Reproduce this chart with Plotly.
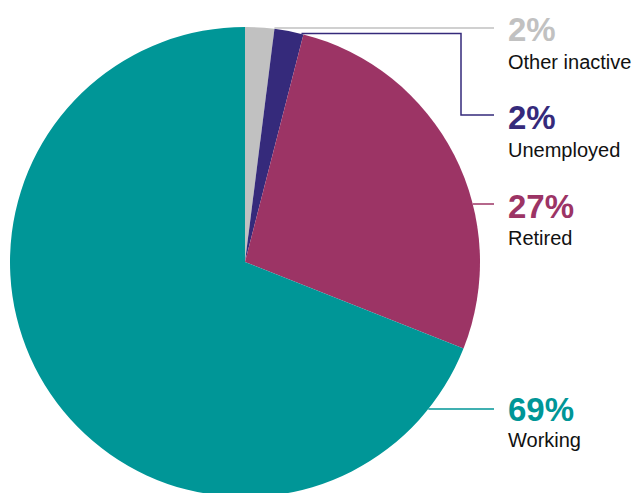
import math
import plotly.graph_objects as go

# data
labels = ["Other inactive", "Unemployed", "Retired", "Working"]
values = [2, 2, 27, 69]
colours = ["#c1c1c1", "#352a7b", "#9c3465", "#009697"]

OFF = 8            # page body margin
W, H = 635, 489
TOP = 19
CX, CY, R = 245, 262, 235   # pie geometry in page pixels

def px(x):
    return (x - OFF) / W

def py(y):
    return (H - (y - OFF)) / (H - TOP)

fig = go.Figure(go.Pie(
    labels=labels,
    values=values,
    sort=False,
    direction="clockwise",
    rotation=0,
    marker=dict(colors=colours, line=dict(width=0)),
    textinfo="none",
    hoverinfo="label+percent",
    domain=dict(x=[px(CX - R), px(CX + R)], y=[0, 1]),
    showlegend=False,
))

# label rows (page pixel y of the leader line, percent label, name label)
line_y = [28, 115, 204, 409]
pct_y = [30, 117, 206, 409]
name_y = [62, 150, 238, 440]
LX_END = 494
TX = 506

def edge_x(y):
    dy = y - CY
    return CX + math.sqrt(max(R * R - dy * dy, 0))

shapes = []
# other inactive: from top edge of its slice
a = 2 * math.pi * values[0] / sum(values)
shapes.append(dict(type="line", xref="paper", yref="paper",
                   x0=px(CX + R * math.sin(a)), x1=px(LX_END),
                   y0=py(line_y[0]), y1=py(line_y[0]),
                   line=dict(color=colours[0], width=1.5)))
# unemployed: elbow line
a2 = 2 * math.pi * (values[0] + values[1]) / sum(values)
sx, sy = CX + R * math.sin(a2) - 2, CY - R * math.cos(a2) - 1
path = "M {} {} L {} {} L {} {} L {} {}".format(
    px(sx), py(sy), px(461), py(sy), px(461), py(line_y[1]), px(LX_END), py(line_y[1]))
shapes.append(dict(type="path", xref="paper", yref="paper", path=path,
                   line=dict(color=colours[1], width=1.5)))
for i in (2, 3):
    shapes.append(dict(type="line", xref="paper", yref="paper",
                       x0=px(edge_x(line_y[i])), x1=px(LX_END),
                       y0=py(line_y[i]), y1=py(line_y[i]),
                       line=dict(color=colours[i], width=1.5)))

annotations = []
for i, lab in enumerate(labels):
    annotations.append(dict(
        x=px(TX), y=py(pct_y[i]), xref="paper", yref="paper",
        xanchor="left", yanchor="middle", showarrow=False,
        text="<b>{}%</b>".format(values[i]),
        font=dict(family="Liberation Sans, Arial, sans-serif", size=33, color=colours[i])))
    annotations.append(dict(
        x=px(TX), y=py(name_y[i]), xref="paper", yref="paper",
        xanchor="left", yanchor="middle", showarrow=False,
        text=lab,
        font=dict(family="Liberation Sans, Arial, sans-serif", size=20, color="#111111")))

fig.update_layout(
    width=W, height=H,
    margin=dict(l=0, r=0, t=TOP, b=0),
    paper_bgcolor="white",
    plot_bgcolor="white",
    shapes=shapes,
    annotations=annotations,
)

fig.write_html("out.html")
